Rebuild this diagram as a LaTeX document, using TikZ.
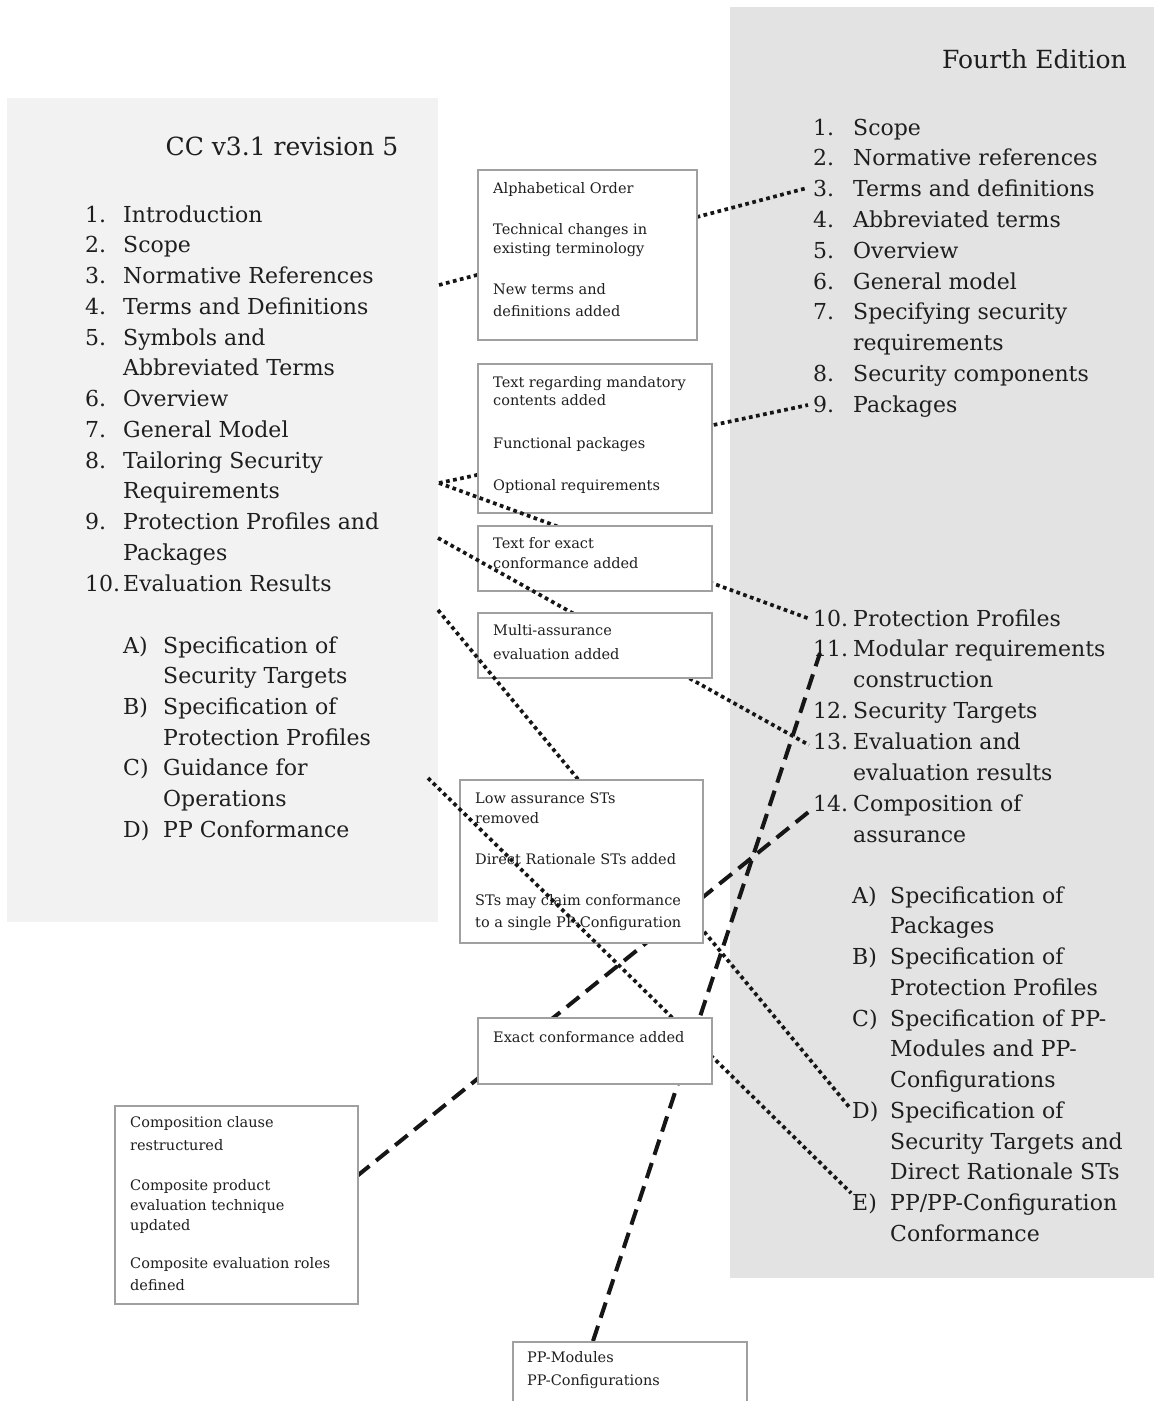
\documentclass[tikz,border=0pt]{standalone}
\usepackage{fontspec}
\setmainfont{DejaVu Serif}
\definecolor{ink}{HTML}{161616}
\definecolor{txtc}{HTML}{1E1E1E}
\definecolor{boxline}{HTML}{A0A0A0}
\definecolor{panelL}{HTML}{F2F2F2}
\definecolor{panelR}{HTML}{E3E3E3}
\begin{document}
\begin{tikzpicture}[x=1pt,y=-1pt,
  item/.style={anchor=base west, inner sep=0pt, text=txtc, font=\fontsize{22}{26}\selectfont},
  note/.style={anchor=base west, inner sep=0pt, text=txtc, font=\fontsize{14.5}{17}\selectfont},
  heading/.style={inner sep=0pt, text=txtc, font=\fontsize{25}{30}\selectfont},
  notebox/.style={draw=boxline, line width=1.5pt, fill=white, anchor=north west, inner sep=0pt},
  dotline/.style={draw=ink, line width=3.7pt, dash pattern=on 3.7pt off 3.5pt},
  dashline/.style={draw=ink, line width=4pt, dash pattern=on 16pt off 8.5pt},
]
\useasboundingbox (0,0) rectangle (1154,1401);
\clip (0,0) rectangle (1154,1401);

% background panels
\fill[panelL] (7,98) rectangle (438,922);
\fill[panelR] (730,7) rectangle (1154,1278);

% ---- CC v3.1 revision 5 ----
\node[heading, anchor=base] (ltitle) at (282,155) {CC v3.1 revision 5};
\foreach \n/\t [count=\k from 0] in {
  1./Introduction, 2./Scope, 3./Normative References, 4./Terms and Definitions,
  5./Symbols and, /Abbreviated Terms, 6./Overview, 7./General Model,
  8./Tailoring Security, /Requirements, 9./Protection Profiles and, /Packages,
  10./Evaluation Results}{
  \node[item] (ln\k) at (85,222+30.75*\k) {\n};
  \node[item] (lt\k) at (123,222+30.75*\k) {\t};
}
\foreach \n/\t [count=\k from 0] in {
  A)/Specification of, /Security Targets, B)/Specification of, /Protection Profiles,
  C)/Guidance for, /Operations, D)/PP Conformance}{
  \node[item] (la\k) at (123,653+30.67*\k) {\n};
  \node[item] (lb\k) at (163,653+30.67*\k) {\t};
}

% ---- Fourth Edition ----
\node[heading, anchor=base east] (rtitle) at (1127,68) {Fourth Edition};
\foreach \n/\t [count=\k from 0] in {
  1./Scope, 2./Normative references, 3./Terms and definitions, 4./Abbreviated terms,
  5./Overview, 6./General model, 7./Specifying security, /requirements,
  8./Security components, 9./Packages}{
  \node[item] (rn\k) at (813,135+30.8*\k) {\n};
  \node[item] (rt\k) at (853,135+30.8*\k) {\t};
}
\foreach \n/\t [count=\k from 0] in {
  10./Protection Profiles, 11./Modular requirements, /construction,
  12./Security Targets, 13./Evaluation and, /evaluation results,
  14./Composition of, /assurance}{
  \node[item] (rm\k) at (813,626+30.9*\k) {\n};
  \node[item] (rs\k) at (853,626+30.9*\k) {\t};
}
\foreach \n/\t [count=\k from 0] in {
  A)/Specification of, /Packages, B)/Specification of, /Protection Profiles,
  C)/Specification of PP-, /Modules and PP-, /Configurations,
  D)/Specification of, /Security Targets and, /Direct Rationale STs,
  E)/PP\slash PP-Configuration, /Conformance}{
  \node[item] (ra\k) at (852,903+30.75*\k) {\n};
  \node[item] (rb\k) at (890,903+30.75*\k) {\t};
}

% connector end points
\coordinate (p1a) at (439,285);  \coordinate (p1b) at (807,188);
\coordinate (p2a) at (439,483);  \coordinate (p2b) at (808,405);
\coordinate (p3b) at (810,619);
\coordinate (p4a) at (438,538);  \coordinate (p4b) at (809,745);
\coordinate (p5a) at (438,610);  \coordinate (p5b) at (850,1108);
\coordinate (p6a) at (428,778);  \coordinate (p6b) at (851,1193);
\coordinate (d1a) at (357,1176); \coordinate (d1b) at (811,810);
\coordinate (d2a) at (593,1341); \coordinate (d2b) at (820,653);

% terms and definitions
\draw[dotline] (p1a) -- (p1b);
\node[notebox, minimum width=219pt, minimum height=170pt] (b1) at (477,169) {};
\node[note] (b1t1) at (493,193) {Alphabetical Order};
\node[note] (b1t2) at (493,234) {Technical changes in};
\node[note] (b1t3) at (493,253) {existing terminology};
\node[note] (b1t4) at (493,294) {New terms and};
\node[note] (b1t5) at (493,316) {definitions added};

% packages
\draw[dotline] (p2a) -- (p2b);
\node[notebox, minimum width=234pt, minimum height=149pt] (b2) at (477,363) {};
\node[note] (b2t1) at (493,387) {Text regarding mandatory};
\node[note] (b2t2) at (493,405) {contents added};
\node[note] (b2t3) at (493,448) {Functional packages};
\node[note] (b2t4) at (493,490) {Optional requirements};

% protection profiles
\draw[dotline] (p2a) -- (p3b);
\node[notebox, minimum width=234pt, minimum height=65pt] (b3) at (477,525) {};
\node[note] (b3t1) at (493,548) {Text for exact};
\node[note] (b3t2) at (493,568) {conformance added};

% evaluation
\draw[dotline] (p4a) -- (p4b);
\node[notebox, minimum width=234pt, minimum height=65pt] (b4) at (477,612) {};
\node[note] (b4t1) at (493,635) {Multi-assurance};
\node[note] (b4t2) at (493,659) {evaluation added};

% security targets
\draw[dotline] (p5a) -- (p5b);
\draw[dashline] (d1a) -- (d1b);
\node[notebox, minimum width=243pt, minimum height=163pt] (b5) at (459,779) {};
\node[note] (b5t1) at (475,803) {Low assurance STs};
\node[note] (b5t2) at (475,823) {removed};
\node[note] (b5t3) at (475,864) {Direct Rationale STs added};
\node[note] (b5t4) at (475,905) {STs may claim conformance};
\node[note] (b5t5) at (475,927) {to a single PP-Configuration};

% conformance
\draw[dotline] (p6a) -- (p6b);
\draw[dashline] (d2a) -- (d2b);
\node[notebox, minimum width=234pt, minimum height=66pt] (b6) at (477,1017) {};
\node[note] (b6t1) at (493,1042) {Exact conformance added};

% composition
\node[notebox, minimum width=243pt, minimum height=198pt] (b7) at (114,1105) {};
\node[note] (b7t1) at (130,1127) {Composition clause};
\node[note] (b7t2) at (130,1150) {restructured};
\node[note] (b7t3) at (130,1190) {Composite product};
\node[note] (b7t4) at (130,1210) {evaluation technique};
\node[note] (b7t5) at (130,1230) {updated};
\node[note] (b7t6) at (130,1268) {Composite evaluation roles};
\node[note] (b7t7) at (130,1290) {defined};

% modular requirements
\node[notebox, minimum width=234pt, minimum height=90pt] (b8) at (512,1341) {};
\node[note] (b8t1) at (527,1362) {PP-Modules};
\node[note] (b8t2) at (527,1385) {PP-Configurations};
\end{tikzpicture}
\end{document}
